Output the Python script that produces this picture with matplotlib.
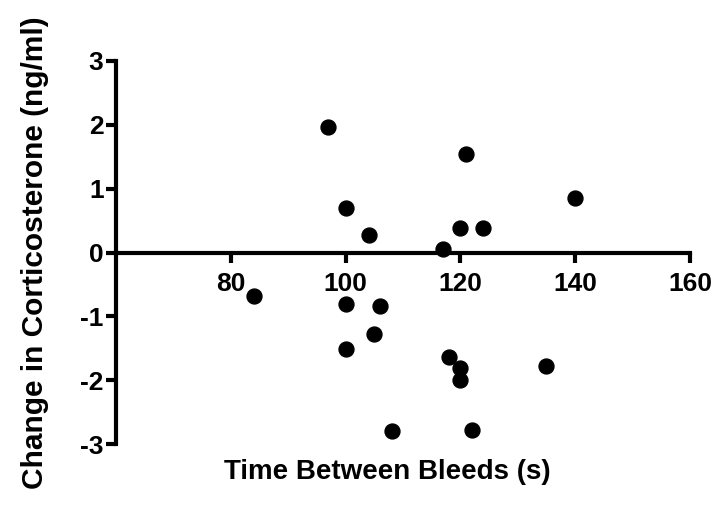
import matplotlib
matplotlib.use("Agg")
import matplotlib.pyplot as plt

# time between bleeds (s) vs change in corticosterone (ng/ml)
time_s = [97, 121, 140, 100, 104, 120, 124, 117, 84, 100,
          106, 105, 100, 118, 120, 120, 135, 108, 122]
delta_cort = [1.96, 1.54, 0.85, 0.69, 0.27, 0.38, 0.38, 0.05, -0.68, -0.80,
              -0.84, -1.27, -1.51, -1.64, -1.80, -2.00, -1.78, -2.79, -2.78]
x_ticks = [80, 100, 120, 140, 160]
y_ticks = [-3, -2, -1, 0, 1, 2, 3]

plt.rcParams['font.family'] = ['Liberation Sans', 'DejaVu Sans']
plt.rcParams['font.weight'] = 'bold'
plt.rcParams['axes.unicode_minus'] = False

fig = plt.figure(figsize=(7.17, 5.11), dpi=100)
ax = fig.add_axes([0.1618, 0.1305, 0.8005, 0.7507])

ax.scatter(time_s, delta_cort, s=115, color='black', zorder=3, clip_on=False)

ax.set_xlim(60, 160)
ax.set_ylim(-3, 3)
ax.set_xticks(x_ticks)
ax.set_yticks(y_ticks)

ax.spines['top'].set_visible(False)
ax.spines['right'].set_visible(False)
ax.spines['bottom'].set_position(('data', 0))
for side in ['left', 'bottom']:
    ax.spines[side].set_linewidth(3)
    ax.spines[side].set_capstyle('projecting')

ax.tick_params(axis='both', width=3, length=7, labelsize=19)
ax.tick_params(axis='x', pad=7)
ax.tick_params(axis='y', pad=2)
for lbl in ax.get_xticklabels() + ax.get_yticklabels():
    lbl.set_fontweight('bold')

fig.text(0.5404, 0.076, 'Time Between Bleeds (s)', ha='center', va='center',
         fontsize=20, fontweight='bold')
fig.text(0.049, 0.505, 'Change in Corticosterone (ng/ml)', ha='center', va='center',
         rotation=90, fontsize=21.5, fontweight='bold')

fig.savefig('out.png', dpi=100)
